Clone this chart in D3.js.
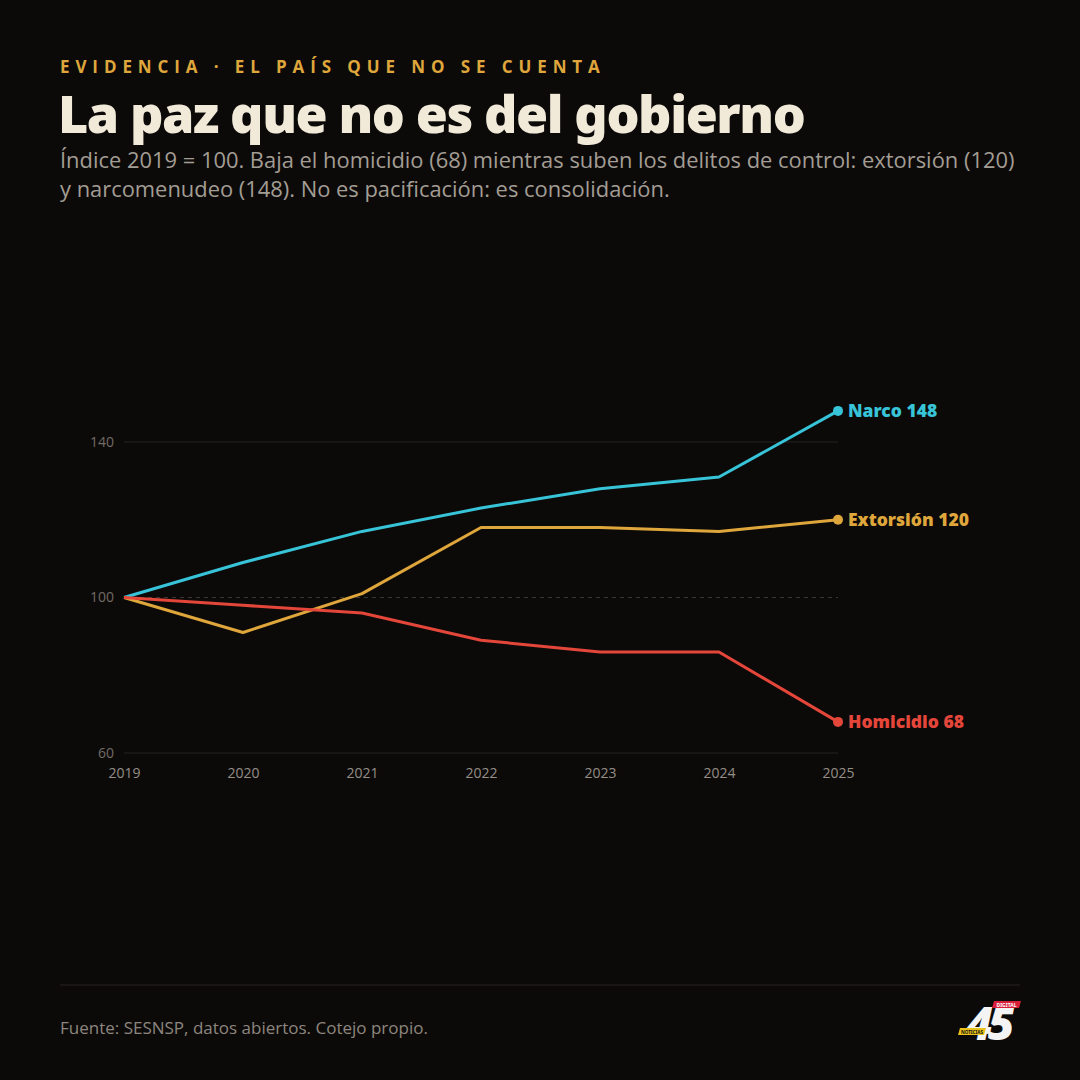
<!DOCTYPE html>
<html lang="es">
<head>
  <meta charset="UTF-8">
  <title>La paz que no es del gobierno</title>
  <script src="https://d3js.org/d3.v7.min.js"></script>
  <style>
    body { margin: 0; background: #0c0a09; }
    svg { display: block; }
  </style>
</head>
<body>
  <div id="chart"></div>
  <script>
    const years = [2019, 2020, 2021, 2022, 2023, 2024, 2025];
    const narco = [100, 109, 117, 123, 128, 131, 148];
    const extorsion = [100, 91, 101, 118, 118, 117, 120];
    const homicidio = [100, 98, 96, 89, 86, 86, 68];
    const yTicks = [60, 100, 140];

    const series = [
      { name: "Narco", values: narco, color: "#38c4d8" },
      { name: "Extorsión", values: extorsion, color: "#dfa63c" },
      { name: "Homicidio", values: homicidio, color: "#e4463a" }
    ];

    const W = 1080, H = 1080;
    const svg = d3.select("#chart").append("svg").attr("width", W).attr("height", H);
    svg.append("rect").attr("width", W).attr("height", H).attr("fill", "#0c0a09");

    // header
    svg.append("text").attr("x", 60).attr("y", 73)
      .attr("font-family", "'Open Sans', 'Noto Sans', sans-serif").attr("font-weight", 700)
      .attr("font-size", 17).attr("letter-spacing", 5.9).attr("fill", "#dfa63c")
      .text("EVIDENCIA · EL PAÍS QUE NO SE CUENTA");

    svg.append("text").attr("x", 58).attr("y", 133)
      .attr("font-family", "'Noto Sans', 'Open Sans', sans-serif").attr("font-weight", 900)
      .attr("font-size", 52).attr("letter-spacing", -1.4).attr("fill", "#f1ead9")
      .text("La paz que no es del gobierno");

    const sub = svg.append("text").attr("font-family", "'Open Sans', 'Noto Sans', sans-serif")
      .attr("font-size", 21.9).attr("fill", "#a39d94");
    sub.append("tspan").attr("x", 60).attr("y", 168)
      .text("Índice 2019 = 100. Baja el homicidio (68) mientras suben los delitos de control: extorsión (120)");
    sub.append("tspan").attr("x", 60).attr("y", 197)
      .text("y narcomenudeo (148). No es pacificación: es consolidación.");

    // chart
    const x = d3.scalePoint().domain(years).range([124, 838]);
    const y = d3.scaleLinear().domain([60, 140]).range([753, 442]);

    const grid = svg.append("g");
    yTicks.forEach(t => {
      grid.append("line").attr("x1", x(2019)).attr("x2", x(2025))
        .attr("y1", y(t)).attr("y2", y(t))
        .attr("stroke", t === 100 ? "#3a3633" : "#252220")
        .attr("stroke-width", 1.2)
        .attr("stroke-dasharray", t === 100 ? "4,4" : null);
    });

    const yAxis = svg.append("g").attr("transform", `translate(${x(2019)},0)`)
      .call(d3.axisLeft(y).tickValues(yTicks).tickSize(0).tickPadding(10));
    yAxis.select(".domain").remove();
    yAxis.selectAll("text").attr("font-family", "'Open Sans', 'Noto Sans', sans-serif")
      .attr("font-size", 14).attr("fill", "#716b64");

    const xAxis = svg.append("g").attr("transform", `translate(0,${y(60)})`)
      .call(d3.axisBottom(x).tickFormat(d3.format("d")).tickSize(0).tickPadding(15));
    xAxis.select(".domain").remove();
    xAxis.selectAll("text").attr("font-family", "'Open Sans', 'Noto Sans', sans-serif")
      .attr("font-size", 14).attr("fill", "#948e86");

    const line = d3.line().x((d, i) => x(years[i])).y(d => y(d));

    series.forEach(s => {
      svg.append("path").datum(s.values).attr("d", line)
        .attr("fill", "none").attr("stroke", s.color).attr("stroke-width", 3)
        .attr("stroke-linejoin", "round");
      const last = s.values[s.values.length - 1];
      svg.append("circle").attr("cx", x(2025)).attr("cy", y(last)).attr("r", 5).attr("fill", s.color);
      svg.append("text").attr("x", x(2025) + 10).attr("y", y(last)).attr("dy", "0.35em")
        .attr("font-family", "'Noto Sans', 'Open Sans', sans-serif").attr("font-weight", 900)
        .attr("font-size", 17.5).attr("fill", s.color)
        .text(`${s.name} ${last}`);
    });

    // footer
    svg.append("line").attr("x1", 60).attr("x2", 1020).attr("y1", 985).attr("y2", 985)
      .attr("stroke", "#262321").attr("stroke-width", 1);
    svg.append("text").attr("x", 60).attr("y", 1034)
      .attr("font-family", "'Open Sans', 'Noto Sans', sans-serif").attr("font-size", 17)
      .attr("fill", "#8c867e").text("Fuente: SESNSP, datos abiertos. Cotejo propio.");

    // logo: "45" mark with its two small tags
    const logo = svg.append("g").attr("transform", "translate(958,1000)");
    logo.append("text").attr("x", 8).attr("y", 40)
      .attr("font-family", "'Noto Sans', sans-serif").attr("font-weight", 900)
      .attr("font-style", "italic").attr("font-size", 46).attr("letter-spacing", -5)
      .attr("fill", "#f4f4f4").text("45");
    logo.append("polygon").attr("points", "36,1 63,1 61,8 34,8").attr("fill", "#d81f3a");
    logo.append("text").attr("x", 48.5).attr("y", 6.6).attr("text-anchor", "middle")
      .attr("font-family", "'Noto Sans', sans-serif").attr("font-weight", 700)
      .attr("font-size", 5).attr("fill", "#fff").text("DIGITAL");
    logo.append("polygon").attr("points", "2,28 28,28 26,35 0,35").attr("fill", "#e8c21a");
    logo.append("text").attr("x", 14).attr("y", 33.6).attr("text-anchor", "middle")
      .attr("font-family", "'Noto Sans', sans-serif").attr("font-weight", 700)
      .attr("font-size", 4.6).attr("fill", "#111").text("NOTICIAS");
  </script>
</body>
</html>
